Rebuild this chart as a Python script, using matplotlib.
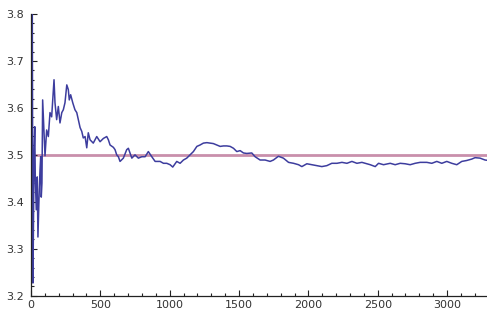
import numpy as np
import matplotlib
matplotlib.use("Agg")
import matplotlib.pyplot as plt
from matplotlib.ticker import MultipleLocator

# running mean of die rolls
rolls = [1, 9, 14, 22, 27, 31, 38, 45, 50, 58,
         65, 70, 74, 79, 84, 101, 113, 125, 137, 149,
         166, 173, 185, 197, 209, 222, 233, 245, 258, 269,
         276, 286, 301, 317, 330, 341, 354, 366, 377, 390,
         402, 413, 426, 449, 474, 498, 522, 546, 558, 570,
         594, 606, 618, 630, 642, 666, 690, 702, 727, 750,
         774, 799, 823, 846, 871, 895, 931, 955, 979, 1003,
         1022, 1051, 1075, 1099, 1123, 1147, 1171, 1196, 1219, 1243,
         1268, 1291, 1315, 1340, 1364, 1388, 1412, 1436, 1460, 1484,
         1508, 1532, 1556, 1592, 1616, 1652, 1688, 1724, 1748, 1784,
         1820, 1857, 1893, 1929, 1953, 1989, 2025, 2061, 2097, 2133,
         2169, 2206, 2242, 2278, 2314, 2350, 2386, 2422, 2446, 2482,
         2506, 2542, 2590, 2626, 2662, 2698, 2734, 2770, 2806, 2854,
         2890, 2926, 2962, 2998, 3034, 3070, 3106, 3142, 3178, 3202,
         3238, 3274, 3300]
mean = [4.2, 3.85, 3.227, 3.50, 3.56, 3.45, 3.383, 3.453, 3.325, 3.41,
        3.468, 3.496, 3.41, 3.44, 3.617, 3.498, 3.553, 3.539, 3.590, 3.581,
        3.660, 3.611, 3.575, 3.603, 3.568, 3.590, 3.596, 3.611, 3.649, 3.639,
        3.617, 3.628, 3.611, 3.596, 3.590, 3.575, 3.558, 3.550, 3.536, 3.539,
        3.515, 3.547, 3.532, 3.525, 3.539, 3.528, 3.535, 3.539, 3.532, 3.521,
        3.516, 3.511, 3.500, 3.496, 3.486, 3.493, 3.511, 3.514, 3.493, 3.500,
        3.493, 3.496, 3.496, 3.507, 3.496, 3.486, 3.486, 3.482, 3.482, 3.479,
        3.474, 3.486, 3.482, 3.489, 3.493, 3.500, 3.507, 3.518, 3.521, 3.525,
        3.526, 3.525, 3.524, 3.521, 3.518, 3.519, 3.519, 3.518, 3.514, 3.507,
        3.509, 3.504, 3.503, 3.504, 3.496, 3.489, 3.489, 3.486, 3.489, 3.497,
        3.493, 3.484, 3.482, 3.479, 3.475, 3.481, 3.479, 3.477, 3.475, 3.477,
        3.482, 3.482, 3.484, 3.482, 3.486, 3.482, 3.484, 3.481, 3.479, 3.475,
        3.482, 3.479, 3.482, 3.479, 3.482, 3.481, 3.479, 3.482, 3.484, 3.484,
        3.482, 3.486, 3.482, 3.486, 3.482, 3.479, 3.486, 3.488, 3.491, 3.494,
        3.493, 3.489, 3.488]
expected = 3.5

fig = plt.figure(figsize=(4.87, 3.12), dpi=100)
ax = fig.add_axes([31/487, 16.3/312, 1 - 31/487, (295.7 - 14)/312])

ax.axhline(expected, color="#c98fab", lw=2.0, zorder=1)
ax.plot(rolls, mean, color="#3d3d9e", lw=1.1, zorder=2)

ax.set_xlim(0, 3288)
ax.set_ylim(3.2, 3.8)
ax.spines["top"].set_visible(False)
ax.spines["right"].set_visible(False)
for s in ("left", "bottom"):
    ax.spines[s].set_linewidth(0.9)
    ax.spines[s].set_color("#222222")

ax.xaxis.set_major_locator(MultipleLocator(500))
ax.xaxis.set_minor_locator(MultipleLocator(100))
ax.yaxis.set_major_locator(MultipleLocator(0.1))
ax.yaxis.set_minor_locator(MultipleLocator(0.02))
ax.tick_params(which="both", direction="in", colors="#222222", width=0.8,
               labelsize=8, labelcolor="#333333")
ax.tick_params(which="major", length=4)
ax.tick_params(which="minor", length=2)
ax.tick_params(axis="x", pad=3)
ax.tick_params(axis="y", pad=5)
ax.set_yticks(np.arange(3.2, 3.81, 0.1))
ax.set_yticklabels([f"{v:.1f}" for v in np.arange(3.2, 3.81, 0.1)])

fig.savefig("out.png", dpi=100)
